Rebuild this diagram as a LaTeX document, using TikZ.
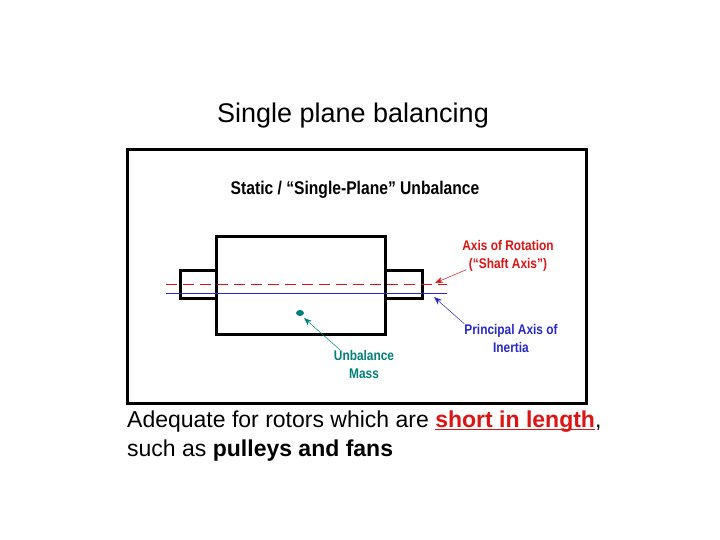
\documentclass[tikz,border=0pt]{standalone}
\usepackage{fontspec}
\setmainfont{Liberation Sans}
\usetikzlibrary{arrows.meta}
\definecolor{rd}{RGB}{220,20,20}
\definecolor{bl}{RGB}{40,40,200}
\definecolor{tl}{RGB}{0,128,120}
\newcommand{\myul}[1]{\setbox0\hbox{#1}\rlap{\rule[-2.5pt]{\wd0}{1pt}}\box0}
\begin{document}
\begin{tikzpicture}[x=1pt,y=-1pt,
  box/.style={draw=black,line width=3pt},
  lab/.style={font=\fontsize{14}{18}\selectfont\bfseries,xscale=0.85,inner sep=0pt,align=center},
  arr/.style={-{Stealth[length=8pt,width=6pt]},line width=0.5pt}]
\useasboundingbox (0,0) rectangle (720,540);
\node (head) at (353,116) {\fontsize{27}{30}\selectfont Single plane balancing};
\draw[line width=3pt] (127,150) rectangle (586,403);
\node[font=\fontsize{18.4}{20}\selectfont\bfseries,xscale=0.85] (title) at (355,190) {Static / “Single-Plane” Unbalance};
\draw[box] (180,270) rectangle (216,298);
\draw[box] (385,270) rectangle (422,298);
\draw[box] (216,236) rectangle (385,334);
\draw[rd,dashed,dash pattern=on 11pt off 6pt,line width=0.7pt] (166,284) -- (447,284);
\draw[bl,line width=1pt] (166,293) -- (447,293);
\coordinate (ra) at (435,283);
\coordinate (ba) at (434,297);
\fill[tl] (300,313) ellipse (4pt and 3pt);
\coordinate (dot) at (304,318);
\node[lab,text=rd] (axr) at (508,256) {Axis of Rotation\\(“Shaft Axis”)};
\node[lab,text=bl] (pai) at (511,338) {Principal Axis of\\Inertia};
\node[lab,text=tl] (um) at (364,364) {Unbalance\\Mass};
\draw[arr,rd] (axr.south west) ++(4,-2) -- (ra);
\draw[arr,bl] (pai.north west) ++(0,0) -- (ba);
\draw[arr,tl] (um.north west) ++(6,0) -- (dot);
\node[anchor=west,align=left,inner sep=0pt,font=\fontsize{23}{29}\selectfont] (bot) at (127,436)
 {Adequate for rotors which are \textcolor{rd}{\bfseries\myul{short in length}}, \\such as \textbf{pulleys and fans}};
\end{tikzpicture}
\end{document}
